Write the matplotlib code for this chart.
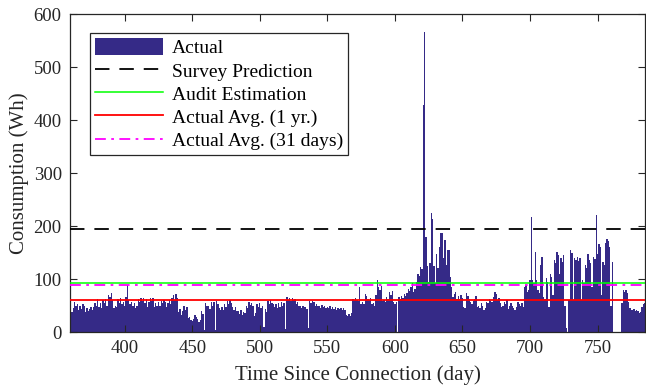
import numpy as np
import matplotlib
matplotlib.use('Agg')
import matplotlib.pyplot as plt

plt.rcParams['font.family'] = ['Liberation Serif', 'DejaVu Serif']

# daily consumption (Wh), one value per day starting at day 360
consumption = [
    73, 38, 45, 56, 49, 52, 42, 50, 44, 53,   # 360
    49, 38, 45, 40, 44, 47, 41, 48, 55, 50,   # 370
    63, 47, 54, 45, 61, 55, 63, 50, 69, 66,   # 380
    73, 60, 45, 50, 47, 62, 55, 64, 52, 57,   # 390
    50, 66, 89, 60, 52, 57, 50, 54, 45, 49,   # 400
    63, 56, 65, 58, 64, 55, 62, 48, 56, 64,   # 410
    58, 65, 47, 55, 49, 57, 50, 58, 54, 60,   # 420
    56, 47, 55, 61, 53, 64, 69, 60, 71, 64,   # 430
    38, 43, 33, 39, 49, 42, 48, 26, 29, 22,   # 440
    20, 25, 33, 28, 24, 19, 23, 40, 34, 4,    # 450
    55, 50, 49, 44, 56, 49, 57, 3, 58, 53,    # 460
    46, 41, 48, 42, 52, 47, 58, 52, 60, 54,   # 470
    47, 42, 48, 40, 39, 34, 41, 33, 37, 35,   # 480
    49, 45, 56, 51, 55, 49, 31, 35, 52, 47,   # 490
    54, 46, 49, 10, 44, 38, 58, 52, 60, 54,   # 500
    53, 47, 52, 46, 54, 48, 56, 50, 55, 6,    # 510
    66, 61, 64, 59, 65, 60, 63, 52, 56, 50,   # 520
    49, 45, 50, 47, 48, 44, 8, 58, 54, 59,    # 530
    56, 50, 53, 49, 50, 45, 51, 47, 49, 46,   # 540
    48, 45, 50, 44, 47, 43, 48, 42, 46, 44,   # 550
    45, 41, 46, 42, 32, 30, 34, 31, 36, 63,   # 560
    60, 65, 61, 58, 85, 52, 57, 53, 71, 67,   # 570
    63, 60, 65, 52, 55, 50, 70, 99, 85, 80,   # 580
    86, 58, 61, 56, 66, 62, 75, 70, 78, 57,   # 590
    53, 56, 0, 66, 62, 68, 64, 72, 68, 74,    # 600
    81, 77, 84, 92, 76, 82, 95, 110, 105, 123,  # 610
    118, 428, 566, 180, 125, 95, 130, 224, 214, 125,  # 620
    92, 148, 120, 160, 186, 186, 140, 174, 126, 155,  # 630
    155, 104, 85, 66, 72, 76, 63, 67, 62, 69,  # 640
    64, 48, 45, 73, 68, 62, 57, 52, 58, 62,   # 650
    67, 47, 50, 46, 55, 50, 41, 45, 57, 54,   # 660
    63, 59, 56, 66, 76, 72, 60, 64, 54, 47,   # 670
    50, 57, 53, 60, 44, 49, 54, 50, 45, 42,   # 680
    48, 57, 53, 50, 54, 47, 85, 88, 76, 80,   # 690
    98, 217, 98, 93, 151, 98, 79, 74, 127, 142,  # 700
    66, 63, 101, 95, 48, 110, 104, 70, 136, 130,  # 710
    151, 146, 110, 139, 133, 145, 50, 8, 0, 60,  # 720
    155, 150, 60, 140, 136, 141, 134, 140, 60, 98,  # 730
    92, 127, 120, 148, 136, 130, 85, 142, 137, 221,  # 740
    148, 166, 160, 70, 132, 126, 168, 176, 171, 161,  # 750
    50, 132, 0, 0, 0, 0, 0, 0, 54, 79,        # 760
    75, 80, 74, 57, 45, 42, 41, 44, 39, 42,   # 770
    40, 35, 38, 48, 52, 55,                   # 780
]
days = np.arange(360, 360 + len(consumption))

survey_prediction = 194
audit_estimation = 92
avg_1yr = 59.5
avg_31days = 89.5

fig = plt.figure(figsize=(6.46, 3.9), dpi=100)
ax = fig.add_axes([0.1084, 0.1487, 0.8908, 0.8154])

h_bar = ax.bar(days, consumption, width=1.0, color='#352a87', edgecolor='none',
               label='Actual', zorder=1)
h_survey, = ax.plot([0, 1], [survey_prediction] * 2, transform=ax.get_yaxis_transform(),
                    color='k', lw=1.3, ls=(0, (8, 5.5)), zorder=3)
h_audit, = ax.plot([0, 1], [audit_estimation] * 2, transform=ax.get_yaxis_transform(),
                   color='#00ff00', lw=1.1, zorder=3)
h_year, = ax.plot([0, 1], [avg_1yr] * 2, transform=ax.get_yaxis_transform(),
                  color='#ff0000', lw=1.3, zorder=3)
h_month, = ax.plot([0, 1], [avg_31days] * 2, transform=ax.get_yaxis_transform(),
                   color='#ff00ff', lw=1.3, ls=(0, (6, 3, 1.5, 3)), zorder=3)

ax.set_xlim(days[0] - 0.5, days[-1] + 0.5)
ax.set_ylim(0, 600)
ax.set_xticks(np.arange(400, 751, 50))
ax.set_yticks(np.arange(0, 601, 100))
ax.tick_params(direction='in', top=True, right=True, length=5, width=0.8,
               labelsize=13.5, colors='#262626', pad=6)
for s in ax.spines.values():
    s.set_color('#262626')
    s.set_linewidth(0.9)

ax.set_xlabel('Time Since Connection (day)', fontsize=15, color='#262626', labelpad=6)
ax.set_ylabel('Consumption (Wh)', fontsize=15, color='#262626', labelpad=3)

leg = ax.legend([h_bar, h_survey, h_audit, h_year, h_month],
                ['Actual', 'Survey Prediction', 'Audit Estimation',
                 'Actual Avg. (1 yr.)', 'Actual Avg. (31 days)'],
                loc='upper left', bbox_to_anchor=(0.035, 0.94), borderaxespad=0,
                fontsize=14, handlelength=3.5, handleheight=1.0,
                labelspacing=0.2, handletextpad=0.45, borderpad=0.25,
                fancybox=False, framealpha=1)
leg.get_frame().set_edgecolor('#262626')
leg.get_frame().set_linewidth(0.9)

fig.savefig('out.png', dpi=100)
